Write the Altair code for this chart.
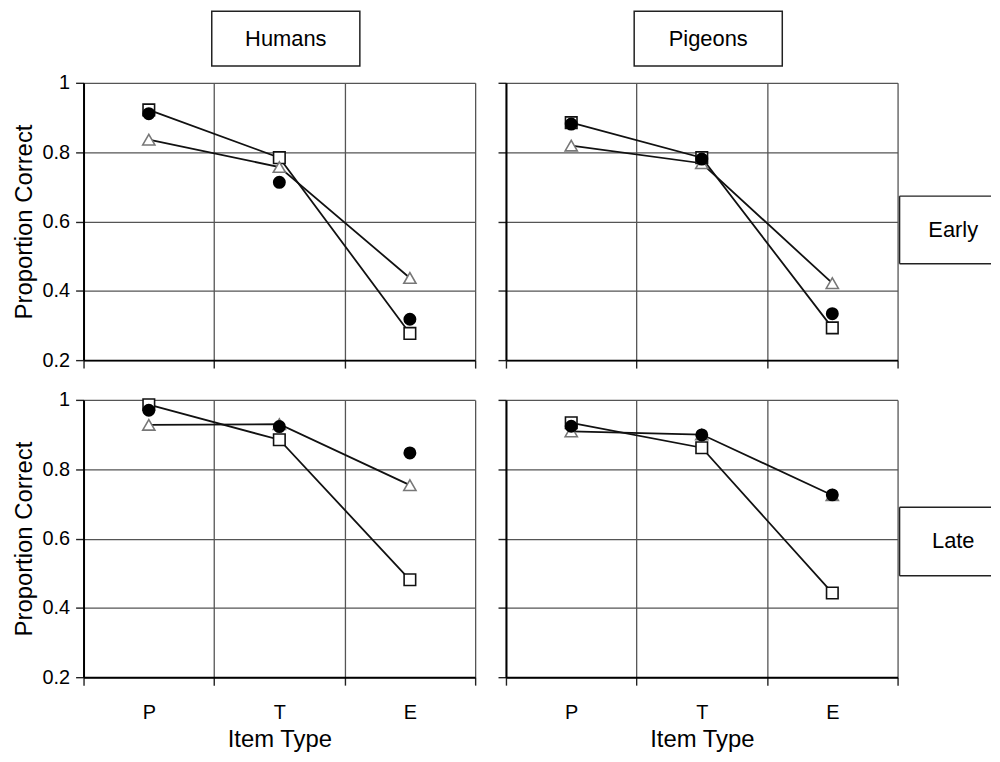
import altair as alt
import pandas as pd

items = ["P", "T", "E"]
series_names = ["circle", "square", "triangle"]

# Humans
humans_early_circle = [0.911, 0.713, 0.318]
humans_early_square = [0.922, 0.784, 0.277]
humans_early_triangle = [0.836, 0.757, 0.437]
humans_late_circle = [0.970, 0.923, 0.847]
humans_late_square = [0.986, 0.885, 0.481]
humans_late_triangle = [0.928, 0.930, 0.754]
# Pigeons
pigeons_early_circle = [0.881, 0.780, 0.334]
pigeons_early_square = [0.885, 0.784, 0.293]
pigeons_early_triangle = [0.819, 0.768, 0.422]
pigeons_late_circle = [0.924, 0.899, 0.726]
pigeons_late_square = [0.934, 0.862, 0.443]
pigeons_late_triangle = [0.909, 0.900, 0.725]

tables = {
    ("Humans", "Early"): [humans_early_circle, humans_early_square, humans_early_triangle],
    ("Humans", "Late"): [humans_late_circle, humans_late_square, humans_late_triangle],
    ("Pigeons", "Early"): [pigeons_early_circle, pigeons_early_square, pigeons_early_triangle],
    ("Pigeons", "Late"): [pigeons_late_circle, pigeons_late_square, pigeons_late_triangle],
}

rows = []
for (sp, ph), arrs in tables.items():
    for name, vals in zip(series_names, arrs):
        for i, (it, v) in enumerate(zip(items, vals)):
            rows.append({"species": sp, "phase": ph, "series": name,
                         "item": it, "idx": i, "value": v})
df = pd.DataFrame(rows)

FONT = "Liberation Sans"
W, H = 394, 279


def panel(sp, ph, show_x, show_y, header=None, rowlabel=None):
    d = df[(df.species == sp) & (df.phase == ph)]
    base = alt.Chart(d)
    x_axis = alt.Axis(tickBand="extent", grid=True, labels=show_x, labelAngle=0,
                      labelPadding=18, titlePadding=5,
                      title="Item Type" if show_x else None)
    y_axis = alt.Axis(values=[0.2, 0.4, 0.6, 0.8, 1.0], format="~g", grid=True,
                      labels=show_y, labelPadding=6, titlePadding=6,
                      title="Proportion Correct" if show_y else None)
    x = alt.X("item:N", sort=items, bandPosition=0.5,
              scale=alt.Scale(type="band", domain=items, paddingInner=0, paddingOuter=0),
              axis=x_axis)
    y = alt.Y("value:Q", scale=alt.Scale(domain=[0.2, 1.0], nice=False, zero=False),
              axis=y_axis)

    lines = base.transform_filter(
        alt.FieldOneOfPredicate(field="series", oneOf=["square", "triangle"])
    ).mark_line(color="#111", strokeWidth=1.8).encode(
        x=x, y=y, detail="series:N", order="idx:Q")
    squares = base.transform_filter(alt.datum.series == "square").mark_point(
        shape="square", filled=True, fill="white", stroke="#111",
        strokeWidth=1.6, size=135, opacity=1).encode(x=x, y=y)
    triangles = base.transform_filter(alt.datum.series == "triangle").mark_point(
        shape="triangle-up", filled=True, fill="white", stroke="#777",
        strokeWidth=1.6, size=150, opacity=1).encode(x=x, y=y)
    circles = base.transform_filter(alt.datum.series == "circle").mark_circle(
        color="black", size=170, opacity=1).encode(x=x, y=y)

    layers = [lines, squares, triangles, circles]

    if header is not None:
        hd = alt.Chart(pd.DataFrame({"label": [header]}))
        box = hd.mark_rect(fill="white", stroke="#222", strokeWidth=1.5).encode(
            x=alt.value(129), x2=alt.value(278), y=alt.value(-72), y2=alt.value(-17))
        txt = hd.mark_text(font=FONT, fontSize=22, color="black", align="center",
                           baseline="middle").encode(
            text="label:N", x=alt.value(203.5), y=alt.value(-44.5))
        layers += [box, txt]
    if rowlabel is not None:
        label, top, bottom = rowlabel
        rd = alt.Chart(pd.DataFrame({"label": [label]}))
        top_rule = rd.mark_rule(color="#222", strokeWidth=1.5).encode(
            x=alt.value(396), x2=alt.value(488), y=alt.value(top))
        bot_rule = rd.mark_rule(color="#222", strokeWidth=1.5).encode(
            x=alt.value(396), x2=alt.value(488), y=alt.value(bottom))
        left_rule = rd.mark_rule(color="#222", strokeWidth=1.5).encode(
            x=alt.value(396), y=alt.value(top), y2=alt.value(bottom))
        txt = rd.mark_text(font=FONT, fontSize=22, color="black", align="center",
                           baseline="middle").encode(
            text="label:N", x=alt.value(450), y=alt.value((top + bottom) / 2))
        layers += [top_rule, bot_rule, left_rule, txt]

    return alt.layer(*layers).properties(width=W, height=H)


tl = panel("Humans", "Early", False, True, header="Humans")
tr = panel("Pigeons", "Early", False, False, header="Pigeons", rowlabel=("Early", 114, 182))
bl = panel("Humans", "Late", True, True)
br = panel("Pigeons", "Late", True, False, rowlabel=("Late", 108, 177))

chart = alt.concat(tl, tr, bl, br, columns=2, spacing={"row": 40, "column": 31},
                   bounds="flush").properties(
    padding={"left": 4, "top": 0, "right": 0, "bottom": 0},
    background="white"
).configure_axis(
    labelFont=FONT, titleFont=FONT, labelFontSize=20, titleFontSize=24,
    titleFontWeight="normal", labelColor="black", titleColor="black",
    domainColor="black", domainWidth=2, tickColor="#222", tickWidth=1.4,
    tickSize=8, gridColor="#555", gridWidth=1.3, gridOpacity=1
).configure_view(strokeWidth=0)

chart.save("out.html", embed_options={"renderer": "svg", "actions": False})
